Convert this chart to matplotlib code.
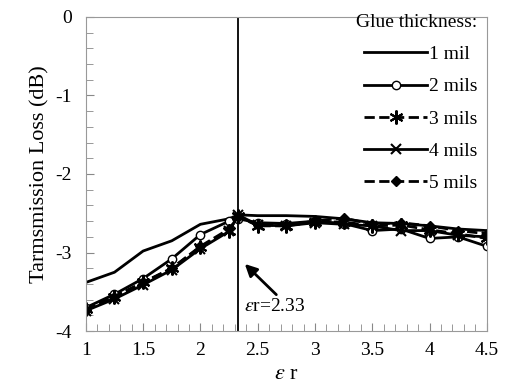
import numpy as np
import matplotlib.pyplot as plt
from matplotlib.ticker import MultipleLocator, FormatStrFormatter

plt.rcParams['font.family'] = ['Liberation Serif', 'DejaVu Serif']
plt.rcParams['mathtext.fontset'] = 'stix'
plt.rcParams['axes.unicode_minus'] = False

# Dados
er = [1, 1.25, 1.5, 1.75, 2, 2.25, 2.33, 2.5, 2.75, 3, 3.25, 3.5, 3.75, 4, 4.25, 4.5]
mil1 = [-3.38, -3.25, -2.98, -2.85, -2.64, -2.57, -2.52, -2.53, -2.53, -2.54, -2.57, -2.62, -2.63, -2.66, -2.70, -2.72]
mil2 = [-3.70, -3.53, -3.33, -3.08, -2.77, -2.60, -2.57, -2.62, -2.63, -2.60, -2.63, -2.72, -2.70, -2.82, -2.80, -2.92]
mil3 = [-3.72, -3.56, -3.38, -3.20, -2.93, -2.72, -2.53, -2.66, -2.66, -2.61, -2.61, -2.66, -2.65, -2.71, -2.76, -2.82]
mil4 = [-3.74, -3.59, -3.41, -3.22, -2.95, -2.73, -2.52, -2.65, -2.66, -2.62, -2.64, -2.66, -2.72, -2.72, -2.78, -2.80]
mil5 = [-3.73, -3.56, -3.38, -3.20, -2.92, -2.70, -2.55, -2.65, -2.65, -2.60, -2.56, -2.64, -2.62, -2.66, -2.72, -2.76]
labels = ['1 mil', '2 mils', '3 mils', '4 mils', '5 mils']
er_line = 2.33

fig = plt.figure(figsize=(5.05, 3.91), dpi=100)
ax = fig.add_axes([0.170, 0.153, 0.794, 0.804])

ax.plot(er, mil1, '-', color='k', lw=2, label=labels[0])
ax.plot(er, mil2, '-', color='k', lw=2, marker='o', ms=6, mfc='white', mec='k', label=labels[1])
ax.plot(er, mil3, '--', color='k', lw=2, marker=(6, 2, 0), ms=10, mew=1.5, label=labels[2])
ax.plot(er, mil4, '-', color='k', lw=2, marker='x', ms=7, mew=1.5, label=labels[3])
ax.plot(er, mil5, '--', color='k', lw=2, marker='D', ms=5, label=labels[4])

ax.axvline(er_line, color='k', lw=1.3)
ax.annotate('', xy=(2.37, -3.12), xytext=(2.68, -3.56),
            arrowprops=dict(arrowstyle='-|>', color='k', lw=2, mutation_scale=18))
ax.text(2.38, -3.69, r'$\mathit{\varepsilon}$r=2.33', fontsize=14, va='center')

ax.set_xlim(1, 4.5)
ax.set_ylim(-4, 0)
ax.xaxis.set_major_locator(MultipleLocator(0.5))
ax.xaxis.set_minor_locator(MultipleLocator(0.1))
ax.xaxis.set_major_formatter(FormatStrFormatter('%g'))
ax.yaxis.set_major_locator(MultipleLocator(1))
ax.yaxis.set_minor_locator(MultipleLocator(0.2))
ax.yaxis.set_major_formatter(FormatStrFormatter('%g'))
ax.tick_params(which='both', direction='in', color='#888888', labelsize=14, top=False, right=False)
ax.tick_params(which='major', length=6)
ax.tick_params(which='minor', length=5)
ax.tick_params(axis='x', pad=8)
ax.tick_params(axis='y', pad=10)
for s in ax.spines.values():
    s.set_color('#999999')

ax.set_xlabel(r'$\mathit{\varepsilon}$ r', fontsize=16)
ax.set_ylabel('Tarmsmission Loss (dB)', fontsize=16)

leg = ax.legend(title='Glue thickness:', loc='upper right', bbox_to_anchor=(1.0, 1.04),
                frameon=False, fontsize=14, title_fontsize=14, handlelength=3.2,
                labelspacing=0.75, handletextpad=0.1, borderaxespad=0.1, alignment='right')

fig.savefig('out.png', dpi=100)
